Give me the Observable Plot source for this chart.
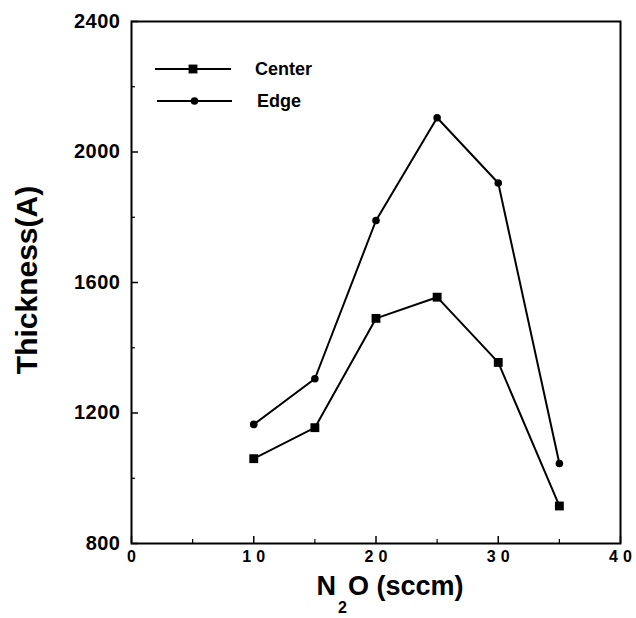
<!DOCTYPE html>
<html><head><meta charset="utf-8">
<script src="https://cdn.jsdelivr.net/npm/d3@7"></script>
<script src="https://cdn.jsdelivr.net/npm/@observablehq/plot@0.6"></script>
<style>body{margin:0;background:#fff} #chart{width:636px;height:618px}</style>
</head><body><div id="chart"></div>
<script>
const n2o = [10, 15, 20, 25, 30, 35];
const center = [1060, 1155, 1490, 1555, 1355, 915];
const edge = [1165, 1305, 1790, 2105, 1905, 1045];
const seriesNames = ["Center", "Edge"];
const xTicks = [0, 10, 20, 30, 40];
const xMinor = [5, 15, 25, 35];
const yTicks = [800, 1200, 1600, 2000, 2400];
const yMinor = [1000, 1400, 1800, 2200];
const xTitle = ["N", "2", "O (sccm)"];
const yTitle = "Thickness(A)";

const rows = n2o.flatMap((x, i) => [
  {x, y: center[i], s: seriesNames[0]},
  {x, y: edge[i], s: seriesNames[1]}
]);
const font = "'Liberation Sans', Arial, Helvetica, sans-serif";

const plot = Plot.plot({
  width: 636, height: 618,
  marginLeft: 131, marginRight: 16, marginTop: 21, marginBottom: 75,
  style: {fontFamily: font, background: "#fff", color: "#000", overflow: "visible"},
  x: {domain: [0, 40]},
  y: {domain: [800, 2400]},
  marks: [
    Plot.frame({stroke: "#000", strokeWidth: 2}),
    Plot.axisX({ticks: xTicks, tickSize: -7, tickPadding: 14, fontSize: 16, fontWeight: "bold", label: null, strokeWidth: 1.5}),
    Plot.axisX({ticks: xMinor, tickSize: -4, tickFormat: () => "", label: null, strokeWidth: 1.2}),
    Plot.axisY({ticks: yTicks, tickSize: -7, tickPadding: 18, tickFormat: d3.format("d"), fontSize: 20, fontWeight: "bold", label: null, strokeWidth: 1.5}),
    Plot.axisY({ticks: yMinor, tickSize: -4, tickFormat: () => "", label: null, strokeWidth: 1.2}),
    Plot.line(rows, {x: "x", y: "y", z: "s", stroke: "#000", strokeWidth: 2}),
    Plot.dot(rows.filter(d => d.s === seriesNames[0]), {x: "x", y: "y", symbol: "square", r: 5, fill: "#000", stroke: "none"}),
    Plot.dot(rows.filter(d => d.s === seriesNames[1]), {x: "x", y: "y", symbol: "circle", r: 3.8, fill: "#000", stroke: "none"})
  ]
});
document.getElementById("chart").appendChild(plot);

const svg = d3.select(plot);
svg.selectAll("g[aria-label='x-axis tick label'] text").style("letter-spacing", "5px").attr("dx", 2.5);
svg.selectAll("g[aria-label='y-axis tick label'] text").style("letter-spacing", "0.5px");

// legend
const leg = svg.append("g").attr("font-family", font).attr("font-weight", "bold").attr("font-size", 18).attr("text-anchor", "start");
const legendItems = [
  {name: seriesNames[0], y: 69, sym: d3.symbolSquare, size: Math.PI * 5 * 5, x1: 155, x2: 231, tx: 255},
  {name: seriesNames[1], y: 101, sym: d3.symbolCircle, size: Math.PI * 3.8 * 3.8, x1: 157, x2: 232, tx: 257}
];
legendItems.forEach(it => {
  leg.append("line").attr("x1", it.x1).attr("x2", it.x2).attr("y1", it.y).attr("y2", it.y).attr("stroke", "#000").attr("stroke-width", 2);
  leg.append("path").attr("d", d3.symbol(it.sym, it.size)()).attr("transform", `translate(${(it.x1 + it.x2) / 2},${it.y})`).attr("fill", "#000");
  leg.append("text").attr("x", it.tx).attr("y", it.y).attr("dy", "0.35em").text(it.name);
});

// y title
svg.append("text").attr("font-family", font).attr("font-weight", "bold").attr("font-size", 30)
  .attr("text-anchor", "middle").attr("transform", "translate(37,280) rotate(-90)").text(yTitle);

// x title
const xt = svg.append("text").attr("font-family", font).attr("font-weight", "bold").attr("font-size", 27)
  .attr("text-anchor", "middle").attr("x", 390).attr("y", 595);
xt.append("tspan").text(xTitle[0]);
xt.append("tspan").attr("font-size", 16).attr("dy", 18).attr("dx", 2).text(xTitle[1]);
xt.append("tspan").attr("dy", -18).attr("dx", 1).text(xTitle[2]);
</script>
</body></html>
